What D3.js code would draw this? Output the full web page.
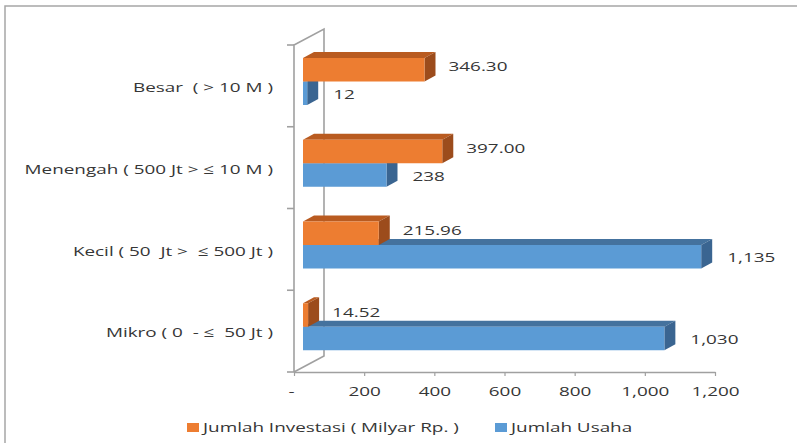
<!DOCTYPE html>
<html><head><meta charset="utf-8">
<script src="https://cdn.jsdelivr.net/npm/d3@7"></script>
<style>
body{margin:0;background:#fff;}
text{font-family:"Open Sans",sans-serif;font-size:13.5px;fill:#363636;white-space:pre;}
</style></head>
<body><svg id="c" width="797" height="443"></svg>
<script>
const categories = ["Besar  ( > 10 M )", "Menengah ( 500 Jt > \u2264 10 M )", "Kecil ( 50  Jt >  \u2264 500 Jt )", "Mikro ( 0  - \u2264  50 Jt )"];
const seriesNames = ["Jumlah Investasi ( Milyar Rp. )", "Jumlah Usaha"];
const investasi = [346.30, 397.00, 215.96, 14.52];
const usaha = [12, 238, 1135, 1030];
const investasiLabels = ["346.30", "397.00", "215.96", "14.52"];
const usahaLabels = ["12", "238", "1,135", "1,030"];
const xTicks = [0, 200, 400, 600, 800, 1000, 1200];

const colors = {
  inv: {front: "#ED7D31", top: "#B95B20", side: "#9C4C1C"},
  us:  {front: "#5B9BD5", top: "#44729E", side: "#3A6591"}
};
const SX = 1.4;
const svg = d3.select("#c");

// outer border
svg.append("path").attr("d", "M5,443V6H797").attr("fill", "none").attr("stroke", "#A6A6A6").attr("stroke-width", 1.5);

const x = d3.scaleLinear().domain([0, 1200]).range([294, 715]);
const y = d3.scaleBand().domain(categories).range([45, 372]);
const sub = d3.scaleBand().domain(["inv", "us"]).range([13, 60]);
const depth = {dx: 11, dy: -6};
const wall = {dx: 30, dy: -16};
const barShift = 9;

// walls
const wallG = svg.append("g").attr("fill", "none").attr("stroke", "#A0A0A0").attr("stroke-width", 1.6);
const [y0, y1] = y.range();
const x0 = x(0);
wallG.append("path").attr("d", `M${x0},${y1}V${y0}L${x0 + wall.dx},${y0 + wall.dy}V${y1 + wall.dy}L${x0},${y1}`);
const edges = categories.map(c => y(c)).concat([y1]);
wallG.selectAll("line.t").data(edges).join("line")
  .attr("x1", x0 - 7).attr("x2", x0).attr("y1", d => d).attr("y2", d => d);

// x axis
const ax = svg.append("g").attr("transform", `translate(0,${y1})`)
  .call(d3.axisBottom(x).tickValues(xTicks).tickSize(4).tickSizeOuter(0)
    .tickFormat(d => d === 0 ? "-" : d3.format(",")(d)));
ax.select(".domain").attr("stroke", "#A0A0A0").attr("stroke-width", 1.6);
ax.selectAll(".tick line").attr("stroke", "#A0A0A0").attr("stroke-width", 1.2);
ax.selectAll(".tick text").attr("y", null).attr("dy", "0.35em")
  .attr("transform", `translate(${0},19) scale(${SX},1)`)
  .style("font-family", "'Open Sans',sans-serif").style("font-size", "13.5px").attr("fill", "#363636");
ax.selectAll(".tick").filter(d => d === 0).select("text").attr("transform", `translate(-3,19) scale(${SX},1)`);

function bar(g, v, top, c) {
  const xs = x(0) + barShift, xe = x(v) + barShift, h = sub.bandwidth();
  const yb = top + h;
  g.append("path").attr("fill", c.top)
    .attr("d", `M${xs},${top}L${xs + depth.dx},${top + depth.dy}L${xe + depth.dx},${top + depth.dy}L${xe},${top}Z`);
  g.append("path").attr("fill", c.side)
    .attr("d", `M${xe},${top}L${xe + depth.dx},${top + depth.dy}L${xe + depth.dx},${yb + depth.dy}L${xe},${yb}Z`);
  g.append("rect").attr("x", xs).attr("y", top).attr("width", xe - xs).attr("height", h).attr("fill", c.front);
}
function label(txt, px, py, anchor) {
  svg.append("text").attr("transform", `translate(${px},${py}) scale(${SX},1)`)
    .attr("dy", "0.35em").attr("text-anchor", anchor || "start").text(txt);
}

const barsG = svg.append("g");
categories.forEach((c, i) => {
  const g = barsG.append("g");
  const tInv = y(c) + sub("inv"), tUs = y(c) + sub("us");
  bar(g, usaha[i], tUs, colors.us);
  bar(g, investasi[i], tInv, colors.inv);
  label(investasiLabels[i], x(investasi[i]) + barShift + 24, tInv + sub.bandwidth() / 2 - 3);
  label(usahaLabels[i], x(usaha[i]) + barShift + 26, tUs + sub.bandwidth() / 2 + 1);
  label(c, 273, y(c) + y.bandwidth() / 2 + 1.5, "end");
});

// legend
const legend = [
  {name: seriesNames[0], color: colors.inv.front, x: 187},
  {name: seriesNames[1], color: colors.us.front, x: 495}
];
legend.forEach(l => {
  svg.append("rect").attr("x", l.x).attr("y", 423).attr("width", 12).attr("height", 9).attr("fill", l.color);
  label(l.name, l.x + 16, 427.5);
});
</script></body></html>
